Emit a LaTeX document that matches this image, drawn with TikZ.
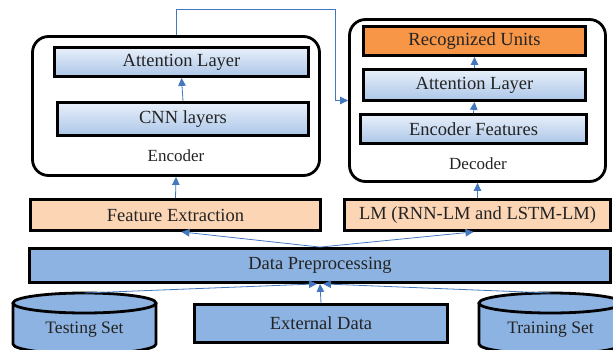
\documentclass[tikz,border=0pt]{standalone}
\usepackage{fontspec}
\setmainfont{Liberation Serif}
\usetikzlibrary{arrows.meta}
\definecolor{lineblue}{RGB}{68,120,190}
\definecolor{dpblue}{RGB}{141,179,226}
\definecolor{peach}{RGB}{252,213,180}
\definecolor{unitorange}{RGB}{247,150,70}
\definecolor{lighttop}{RGB}{232,240,250}
\definecolor{lightbot}{RGB}{172,198,232}
\definecolor{txt}{RGB}{35,35,35}
\tikzset{
  box/.style={draw=black, line width=2.8pt, text=txt, font=\fontsize{18.5}{21}\selectfont, inner sep=0pt},
  layer/.style={box, top color=lighttop, bottom color=lightbot},
  frame/.style={draw=black, line width=2.8pt, rounded corners=16pt},
  link/.style={draw=lineblue, line width=0.8pt, -{Triangle[length=8pt,width=7.5pt]}},
  lbl/.style={text=txt, font=\fontsize{17}{20}\selectfont}
}
\begin{document}
\begin{tikzpicture}[x=1pt,y=-1pt]
  \clip (0,0) rectangle (613,350);
  \useasboundingbox (0,0) rectangle (613,350);
  % encoder
  \node[frame, minimum width=287pt, minimum height=139pt] (encframe) at (176,106) {};
  \node[layer, minimum width=254pt, minimum height=29pt] (encatt) at (181.5,62) {Attention Layer};
  \node[layer, minimum width=251pt, minimum height=33pt] (cnn) at (183,119) {CNN layers};
  \node[lbl] (enclbl) at (176,156) {Encoder};
  % decoder
  \node[frame, minimum width=256pt, minimum height=162pt] (decframe) at (477.5,100.5) {};
  \node[box, fill=unitorange, minimum width=222pt, minimum height=29pt] (units) at (474.5,41) {Recognized Units};
  \node[layer, minimum width=222pt, minimum height=31pt] (decatt) at (474.5,85) {Attention Layer};
  \node[layer, minimum width=226pt, minimum height=29pt] (encfeat) at (473.5,129) {Encoder Features};
  \node[lbl] (declbl) at (478,164) {Decoder};
  % middle
  \node[box, fill=peach, minimum width=290pt, minimum height=31pt] (featext) at (175.5,215) {Feature Extraction};
  \node[box, fill=peach, minimum width=266pt, minimum height=31pt] (lm) at (477.5,215) {LM (RNN-LM and LSTM-LM)};
  \node[box, fill=dpblue, minimum width=581pt, minimum height=34pt] (prep) at (320,265.5) {Data Preprocessing};
  \node[box, fill=dpblue, minimum width=253pt, minimum height=38pt] (ext) at (321,323.5) {External Data};
  % data sets
  \filldraw[fill=dpblue, line width=2.8pt] (13,303) -- (13,344) arc[start angle=180, end angle=0, x radius=71.5, y radius=10] -- (156,303);
  \filldraw[fill=dpblue, line width=2.8pt] (84.5,303) ellipse [x radius=71.5, y radius=10];
  \filldraw[fill=dpblue, line width=2.8pt] (479,303) -- (479,344) arc[start angle=180, end angle=0, x radius=71.5, y radius=10] -- (622,303);
  \filldraw[fill=dpblue, line width=2.8pt] (550.5,303) ellipse [x radius=71.5, y radius=10];
  \node[lbl, font=\fontsize{17.5}{20}\selectfont] (testset) at (84.5,330) {Testing Set};
  \node[lbl, font=\fontsize{17.5}{20}\selectfont] (trainset) at (550.5,330) {Training Set};
  \coordinate (testtop) at (84.5,293);
  \coordinate (traintop) at (550.5,293);
  \coordinate (turn) at (335,9);
  % links
  \draw[link] (cnn.north) -- (encatt.south);
  \draw[link] (encfeat.north) -- (decatt.south);
  \draw[link] (decatt.north) -- (units.south);
  \draw[link] (featext.north) -- (encframe.south);
  \draw[link] (lm.north) -- (decframe.south);
  \draw[link] (encframe.north) |- (turn) |- (decframe.west);
  \draw[link] (prep.north) -- ([xshift=6pt]featext.south);
  \draw[link] (prep.north) -- ([xshift=-4pt]lm.south);
  \draw[link] (ext.north) -- (prep.south);
  \draw[link] (testtop) -- ([xshift=-3pt]prep.south);
  \draw[link] (traintop) -- ([xshift=3pt]prep.south);
\end{tikzpicture}
\end{document}
